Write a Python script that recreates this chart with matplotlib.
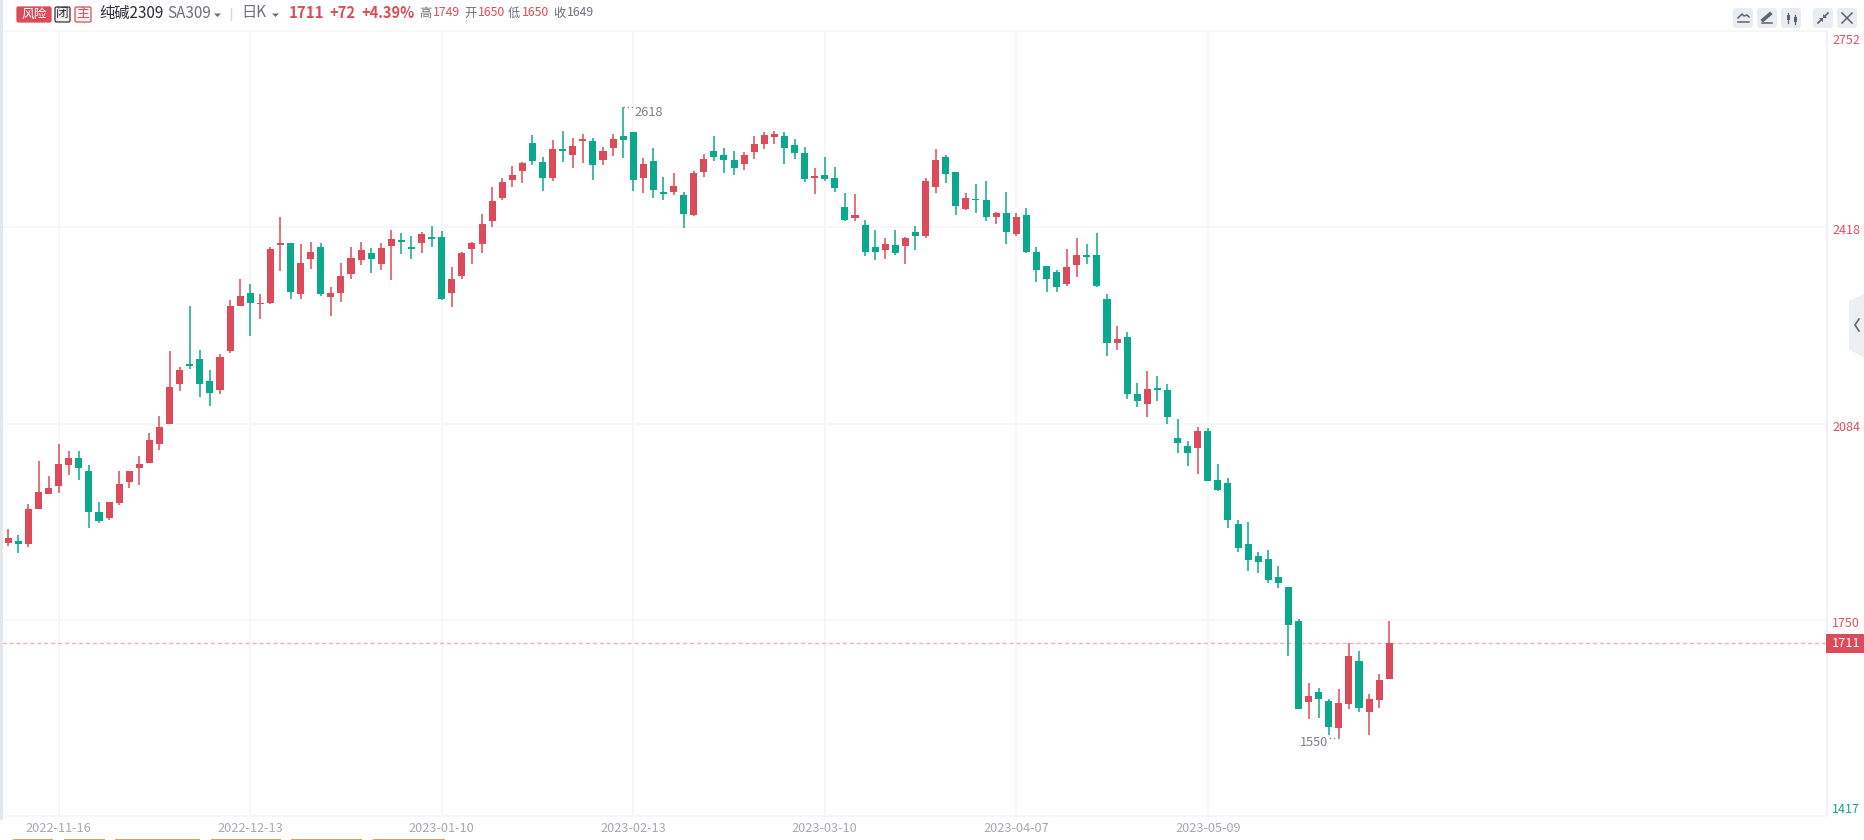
import matplotlib
matplotlib.use("Agg")
import matplotlib.pyplot as plt
from matplotlib.patches import FancyBboxPatch, Polygon, Rectangle
from matplotlib.transforms import ScaledTranslation
import numpy as np

plt.rcParams['font.family'] = ['Noto Sans CJK SC', 'DejaVu Sans']

W, H = 1864, 840

# daily candles
opens = [1882, 1885, 1880, 1939, 1965, 1979, 2014, 2025, 2004, 1934,
         1924, 1950, 1985, 2008, 2018, 2050, 2083, 2151, 2183, 2195,
         2156, 2142, 2207, 2285, 2306, 2287, 2289, 2388, 2391, 2304,
         2364, 2384, 2299, 2306, 2338, 2362, 2374, 2355, 2386, 2394,
         2384, 2391, 2401, 2401, 2306, 2335, 2381, 2389, 2429, 2468,
         2498, 2514, 2561, 2529, 2502, 2550, 2541, 2565, 2565, 2533,
         2553, 2573, 2580, 2502, 2531, 2476, 2478, 2473, 2439, 2512,
         2548, 2541, 2533, 2526, 2546, 2560, 2572, 2573, 2558, 2544,
         2502, 2507, 2502, 2452, 2434, 2422, 2384, 2379, 2388, 2386,
         2410, 2403, 2487, 2538, 2512, 2449, 2466, 2464, 2435, 2442,
         2406, 2439, 2377, 2352, 2342, 2321, 2354, 2371, 2371, 2296,
         2222, 2231, 2135, 2117, 2144, 2142, 2059, 2047, 2042, 2071,
         1989, 1984, 1914, 1880, 1859, 1854, 1824, 1807, 1749, 1611,
         1628, 1613, 1566, 1607, 1681, 1594, 1614, 1650]
highs = [1905, 1895, 1948, 2021, 1996, 2049, 2038, 2037, 2014, 1951,
         1951, 2004, 2004, 2030, 2069, 2098, 2207, 2180, 2285, 2210,
         2176, 2202, 2294, 2330, 2321, 2304, 2384, 2435, 2391, 2389,
         2393, 2391, 2316, 2357, 2384, 2394, 2383, 2391, 2413, 2408,
         2403, 2410, 2420, 2412, 2350, 2377, 2394, 2440, 2486, 2502,
         2522, 2529, 2575, 2538, 2567, 2582, 2570, 2577, 2570, 2555,
         2577, 2622, 2580, 2536, 2553, 2504, 2510, 2478, 2514, 2543,
         2573, 2553, 2548, 2546, 2573, 2580, 2582, 2580, 2568, 2555,
         2519, 2538, 2521, 2476, 2475, 2430, 2413, 2400, 2413, 2401,
         2420, 2502, 2551, 2541, 2512, 2476, 2492, 2497, 2444, 2478,
         2442, 2451, 2384, 2352, 2345, 2381, 2400, 2389, 2408, 2304,
         2251, 2240, 2154, 2173, 2166, 2151, 2093, 2055, 2079, 2076,
         2016, 1992, 1921, 1917, 1866, 1870, 1842, 1807, 1752, 1643,
         1635, 1616, 1633, 1711, 1698, 1624, 1659, 1749]
lows = [1876, 1864, 1875, 1939, 1965, 1967, 1997, 1989, 1907, 1916,
        1921, 1946, 1974, 1980, 2018, 2040, 2083, 2139, 2178, 2130,
        2115, 2134, 2204, 2284, 2234, 2263, 2287, 2343, 2296, 2296,
        2348, 2302, 2267, 2291, 2330, 2354, 2340, 2345, 2328, 2372,
        2364, 2374, 2384, 2294, 2282, 2330, 2355, 2374, 2418, 2464,
        2486, 2493, 2524, 2480, 2497, 2529, 2519, 2527, 2498, 2524,
        2539, 2536, 2480, 2476, 2468, 2464, 2473, 2417, 2437, 2503,
        2531, 2510, 2507, 2515, 2534, 2551, 2560, 2526, 2534, 2495,
        2475, 2497, 2478, 2429, 2429, 2369, 2362, 2364, 2371, 2355,
        2379, 2400, 2476, 2493, 2439, 2447, 2442, 2429, 2423, 2389,
        2403, 2374, 2325, 2308, 2308, 2318, 2333, 2355, 2316, 2200,
        2209, 2127, 2112, 2096, 2122, 2084, 2035, 2013, 1998, 1987,
        1969, 1907, 1866, 1834, 1831, 1814, 1805, 1689, 1599, 1582,
        1584, 1555, 1550, 1599, 1594, 1555, 1601, 1650]
closes = [1890, 1880, 1939, 1968, 1975, 2016, 2026, 2008, 1934, 1919,
          1951, 1982, 2003, 2016, 2057, 2078, 2147, 2176, 2182, 2151,
          2137, 2198, 2285, 2302, 2289, 2289, 2381, 2389, 2308, 2357,
          2377, 2304, 2306, 2335, 2366, 2379, 2364, 2383, 2398, 2393,
          2381, 2406, 2398, 2296, 2330, 2374, 2391, 2423, 2463, 2495,
          2507, 2527, 2531, 2502, 2551, 2548, 2556, 2568, 2524, 2548,
          2568, 2567, 2498, 2526, 2481, 2475, 2488, 2441, 2510, 2534,
          2538, 2533, 2519, 2541, 2560, 2575, 2577, 2553, 2544, 2500,
          2505, 2500, 2485, 2430, 2439, 2376, 2377, 2389, 2374, 2400,
          2403, 2497, 2533, 2509, 2454, 2468, 2464, 2435, 2442, 2410,
          2435, 2377, 2345, 2331, 2316, 2350, 2371, 2367, 2318, 2221,
          2228, 2134, 2122, 2144, 2142, 2095, 2052, 2035, 2071, 1987,
          1972, 1921, 1873, 1853, 1849, 1819, 1814, 1742, 1599, 1621,
          1616, 1568, 1609, 1689, 1601, 1616, 1648, 1711]
# green/red is not always open vs close here, dojis are kept by colour
up = [1, 0, 1, 1, 1, 1, 1, 0, 0, 0, 1, 1, 1, 1, 1, 1, 1, 1, 0, 0,
      0, 1, 1, 1, 0, 1, 1, 1, 0, 1, 1, 0, 1, 1, 1, 1, 0, 1, 1, 0,
      0, 1, 0, 0, 1, 1, 1, 1, 1, 1, 1, 1, 0, 0, 1, 0, 1, 1, 0, 1,
      1, 0, 0, 1, 0, 0, 1, 0, 1, 1, 0, 0, 0, 1, 1, 1, 1, 0, 0, 0,
      1, 0, 0, 0, 1, 0, 0, 1, 0, 1, 0, 1, 1, 0, 0, 1, 0, 0, 1, 0,
      1, 0, 0, 0, 0, 1, 1, 0, 0, 0, 1, 0, 0, 1, 0, 0, 0, 0, 1, 0,
      0, 0, 0, 0, 0, 0, 0, 0, 0, 1, 0, 0, 1, 1, 0, 1, 1, 1]

price_ticks = [2752, 2418, 2084, 1750, 1417]
tick_colors = ["#e2505e", "#e2505e", "#e2505e", "#e2505e", "#12a78c"]
date_pos = [5, 24, 43, 62, 81, 100, 119]
date_labels = ["2022-11-16", "2022-12-13", "2023-01-10", "2023-02-13",
               "2023-03-10", "2023-04-07", "2023-05-09"]
last_price = 1711

RED = "#dc4b59"
GREEN = "#0aa98d"
GRID = "#f6f7f9"

fig = plt.figure(figsize=(W / 100, H / 100), dpi=100, facecolor="white")

# --- price panel, 1 candle is about 10 px ---
ax = fig.add_axes([2 / W, 1 - 816 / H, 1825 / W, 785 / H])
x = np.arange(len(opens))
colors = [RED if u else GREEN for u in up]
ax.vlines(x, lows, highs, colors=colors, linewidth=1.1, zorder=3)
bottoms = np.minimum(opens, closes)
heights = np.maximum(np.abs(np.array(closes) - np.array(opens)), 3)
ax.bar(x, heights, bottom=bottoms, width=0.7, color=colors, linewidth=0, zorder=4)

ax.set_xlim(-0.625, 180.43)
ax.set_ylim(1417, 2752)
ax.set_yticks(price_ticks)
ax.set_xticks(date_pos)
ax.set_xticklabels(date_labels)
ax.yaxis.tick_right()
ax.grid(True, color=GRID, linewidth=1.4)
ax.set_axisbelow(True)
ax.tick_params(length=0)
ax.tick_params(axis="x", labelsize=9.2, labelcolor="#a6a8b6", pad=4)
ax.tick_params(axis="y", labelsize=9, pad=3.8)
label_drop = [3, 2, 2, 2, 0]
for lab, c, d in zip(ax.get_yticklabels(), tick_colors, label_drop):
    lab.set_color(c)
    lab.set_transform(lab.get_transform() + ScaledTranslation(0, -d / 100, fig.dpi_scale_trans))
lab_top, lab_bot = ax.get_yticklabels()[0], ax.get_yticklabels()[-1]
lab_top.set_verticalalignment("top")
lab_bot.set_verticalalignment("bottom")
for name in ["top", "left", "bottom"]:
    ax.spines[name].set_color(GRID)
    ax.spines[name].set_linewidth(1.2)
ax.spines["right"].set_color("#eeeff3")
ax.spines["right"].set_linewidth(1.2)

# last price line
ax.axhline(last_price, color="#eeb4b9", linewidth=1, linestyle=(0, (3, 2)), zorder=2)

# high / low marks
ax.plot([61, 62], [2622, 2622], color="#8a8c99", linewidth=1, linestyle=(0, (1, 2)), zorder=5)
ax.text(62.1, 2624, "2618", color="#7b7d8a", fontsize=9.2, va="top", ha="left", zorder=5)
ax.plot([132, 130.9], [1550, 1550], color="#8a8c99", linewidth=1, linestyle=(0, (1, 2)), zorder=5)
ax.text(130.9, 1553, "1550", color="#7b7d8a", fontsize=9.2, va="top", ha="right", zorder=5)

# --- page chrome on a pixel overlay ---
ov = fig.add_axes([0, 0, 1, 1], facecolor="none")
ov.set_xlim(0, W)
ov.set_ylim(H, 0)
ov.axis("off")

ov.add_patch(Rectangle((0, 0), 2.5, 820, color="#e2e7ed", lw=0))

def badge(x0, x1, y0, y1, fc, ec):
    ov.add_patch(FancyBboxPatch((x0 + 1, y0 + 1), x1 - x0 - 2, y1 - y0 - 2,
                                boxstyle="round,pad=1,rounding_size=1.5",
                                fc=fc, ec=ec, lw=0.9))

badge(17, 51, 7, 22, RED, RED)
ov.text(34, 14, "风险", color="white", fontsize=9.2, ha="center", va="center")
badge(55, 70, 7, 22, "#f3f3f3", "#333333")
ov.text(62.5, 14, "闭", color="#333333", fontsize=9.2, ha="center", va="center")
badge(75, 91, 7, 22, "#fdf1f2", RED)
ov.text(83, 14, "主", color=RED, fontsize=9.2, ha="center", va="center")

ov.text(99, 13, "纯碱2309", color="#2b2d38", fontsize=11, va="center")
ov.text(167, 13, "SA309", color="#6c6f7c", fontsize=11, va="center")
ov.add_patch(Polygon([[214, 13.5], [221, 13.5], [217.5, 17]], color="#6c6f7c", lw=0))
ov.plot([231, 231], [8, 20], color="#d5d7dd", lw=1)
ov.text(241, 13, "日K", color="#6c6f7c", fontsize=11, va="center")
ov.add_patch(Polygon([[272, 13.5], [279, 13.5], [275.5, 17]], color="#6c6f7c", lw=0))
ov.text(289, 13, "1711", color=RED, fontsize=10.8, fontweight="bold", va="center")
ov.text(329, 13, "+72", color=RED, fontsize=10.5, fontweight="bold", va="center")
ov.text(361, 13, "+4.39%", color=RED, fontsize=10.5, fontweight="bold", va="center")

stat_x = [419, 464, 508, 553]
stat_names = ["高", "开", "低", "收"]
stat_vals = ["1749", "1650", "1650", "1649"]
stat_cols = [RED, RED, RED, "#6c6f7c"]
for sx, n, v, c in zip(stat_x, stat_names, stat_vals, stat_cols):
    ov.text(sx, 13, n, color="#6c6f7c", fontsize=8.8, va="center")
    ov.text(sx + 14, 13, v, color=c, fontsize=8.8, va="center")

# toolbar buttons
for bx in [1733, 1757, 1781, 1813, 1837]:
    ov.add_patch(FancyBboxPatch((bx + 2, 10), 16, 16, boxstyle="round,pad=2,rounding_size=3",
                                fc="#e9ecf1", ec="none"))
ic = "#5f6270"
ov.plot([1738, 1742, 1744, 1747, 1749], [18, 14, 16, 15, 17], color=ic, lw=1.1)
ov.plot([1738, 1749], [22, 22], color=ic, lw=1.1)
ov.plot([1763, 1770], [20, 14], color=ic, lw=2.6)
ov.plot([1762, 1772], [22.5, 22.5], color=ic, lw=1.1)
ov.plot([1788, 1788], [13, 23], color=ic, lw=0.9)
ov.plot([1795, 1795], [15, 24], color=ic, lw=0.9)
ov.add_patch(Rectangle((1786.5, 15), 3, 5, color=ic, lw=0))
ov.add_patch(Rectangle((1793.5, 17), 3, 5, color=ic, lw=0))
ov.plot([1818, 1821.5], [23, 19.5], color=ic, lw=1.2)
ov.add_patch(Polygon([[1823, 18], [1819, 18], [1823, 22]], color=ic, lw=0))
ov.plot([1824.5, 1828], [16.5, 13], color=ic, lw=1.2)
ov.add_patch(Polygon([[1823, 18], [1827, 18], [1823, 14]], color=ic, lw=0))
ov.plot([1842, 1852], [13, 23], color=ic, lw=1.1)
ov.plot([1842, 1852], [23, 13], color=ic, lw=1.1)

# last price tag
ov.add_patch(Rectangle((1826, 634), 38, 19, color=RED, lw=0))
ov.text(1832, 643.5, "1711", color="white", fontsize=9.2, va="center", ha="left")

# collapse handle on the right
ov.add_patch(Polygon([[1864, 294], [1849, 301], [1849, 350], [1864, 357]], color="#eeeff3", lw=0))
ov.plot([1859, 1855, 1859], [319, 325, 331], color="#62657a", lw=1.2)

# tabs cut off at the bottom edge
for t0, t1 in [(13, 53), (64, 105), (115, 200), (211, 281), (291, 362), (373, 445)]:
    ov.add_patch(Rectangle((t0, 838.5), t1 - t0, 1.5, color="#cda565", lw=0))

fig.savefig("out.png", dpi=100, facecolor="white")
